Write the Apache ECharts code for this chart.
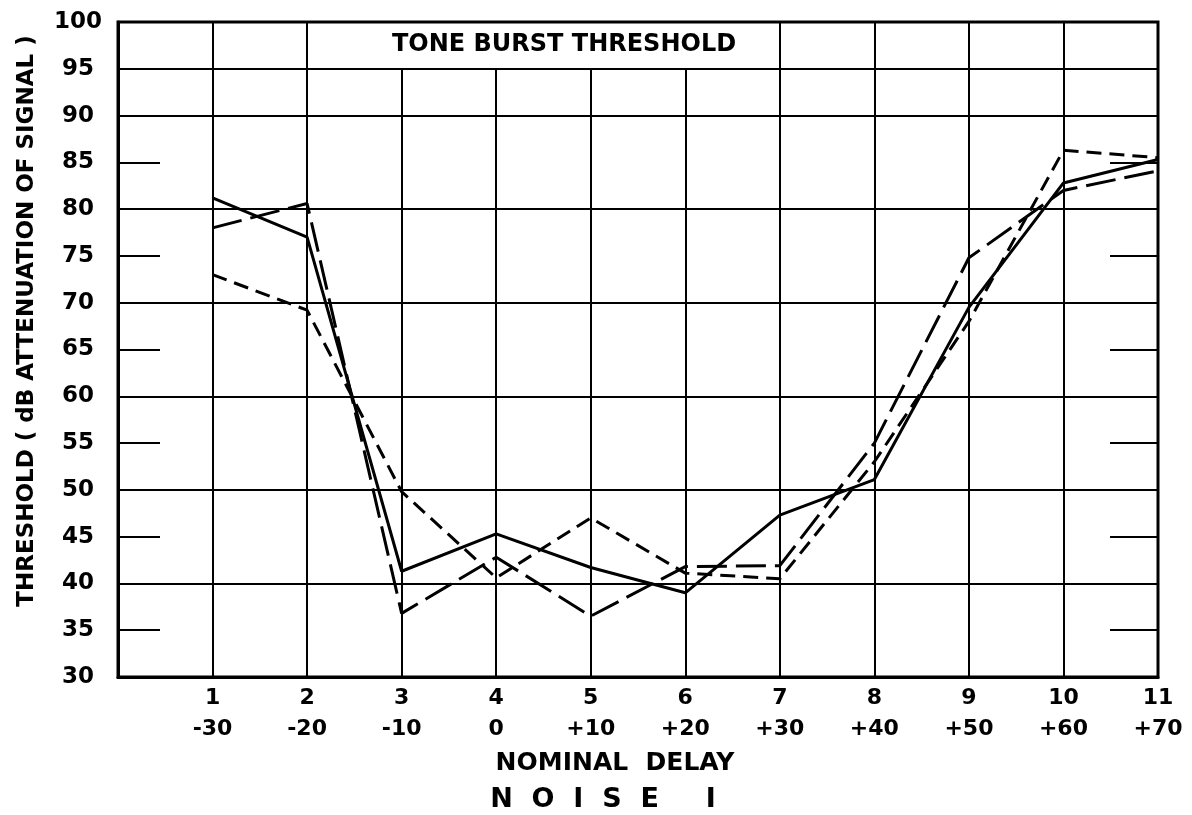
<!DOCTYPE html>
<html>
<head>
<meta charset="utf-8">
<script src="https://cdn.jsdelivr.net/npm/echarts@6/dist/echarts.min.js"></script>
<style>
html,body{margin:0;padding:0;background:#fff;}
#chart{width:1192px;height:815px;}
</style>
</head>
<body>
<div id="chart"></div>
<script>
// ---- data ----
const xValues   = [1, 2, 3, 4, 5, 6, 7, 8, 9, 10, 11];
const trialLabels = ['1','2','3','4','5','6','7','8','9','10','11'];
const delayLabels = ['-30','-20','-10','0','+10','+20','+30','+40','+50','+60','+70'];
const solidSeries     = [81.2, 77.0, 41.3, 45.3, 41.7, 39.0, 47.3, 51.1, 69.5, 82.8, 85.3];
const longDashSeries  = [78.0, 80.6, 36.8, 42.8, 36.5, 41.8, 41.9, 55.0, 74.8, 82.0, 84.1];
const shortDashSeries = [73.0, 69.2, 49.8, 40.6, 47.0, 41.1, 40.5, 53.0, 68.0, 86.3, 85.5];
const fullHLines = [40, 50, 60, 70, 80, 90, 95];
const fullVLines = [1, 2, 7, 8, 9, 10];
const boxVLines  = [3, 4, 5, 6];

const FONT = 'DejaVu Sans';
const chart = echarts.init(document.getElementById('chart'), null, {renderer:'canvas'});

function pts(arr){ return xValues.map((x,i)=>[x, arr[i]]); }

const gridLines = [];
fullHLines.forEach(v => gridLines.push([{coord:[0, v]}, {coord:[11, v]}]));
fullVLines.forEach(v => gridLines.push([{coord:[v, 30]}, {coord:[v, 100]}]));
boxVLines.forEach(v => gridLines.push([{coord:[v, 30]}, {coord:[v, 95]}]));

const option = {
  animation: false,
  backgroundColor: '#fff',
  grid: {left:118, right:34, top:22, bottom:138, show:true, borderColor:'#000', borderWidth:3, backgroundColor:'transparent'},
  xAxis: {
    type:'value', min:0, max:11, interval:1,
    axisLine:{show:true, lineStyle:{color:'#000', width:3}},
    axisTick:{show:false},
    splitLine:{show:false},
    axisLabel:{
      color:'#000', fontFamily:FONT, fontWeight:'bold', fontSize:22, lineHeight:31, margin:6,
      formatter: function(v){ const i = xValues.indexOf(v); return i < 0 ? '' : trialLabels[i] + '\n' + delayLabels[i]; }
    }
  },
  yAxis: [{
    type:'value', min:30, max:100, interval:5,
    axisLine:{show:true, lineStyle:{color:'#000', width:3}},
    axisTick:{show:true, inside:true, length:42, lineStyle:{color:'#000', width:2}},
    splitLine:{show:false},
    axisLabel:{color:'#000', fontFamily:FONT, fontWeight:'bold', fontSize:23, align:'center', margin:40}
  },{
    type:'value', min:30, max:100, interval:5, position:'right',
    axisLine:{show:false},
    axisTick:{show:true, inside:true, length:48, lineStyle:{color:'#000', width:2}},
    splitLine:{show:false},
    axisLabel:{show:false}
  }],
  graphic: [
    {type:'text', x:564, y:45, style:{text:'TONE BURST THRESHOLD', fill:'#000', font:'bold 24px "DejaVu Sans"', align:'center', verticalAlign:'middle'}},
    {type:'text', x:27, y:321, rotation:Math.PI/2, style:{text:'THRESHOLD ( dB ATTENUATION OF SIGNAL )', fill:'#000', font:'bold 23px "DejaVu Sans"', align:'center', verticalAlign:'middle'}},
    {type:'text', x:615, y:763, style:{text:'NOMINAL  DELAY', fill:'#000', font:'bold 25px "DejaVu Sans"', align:'center', verticalAlign:'middle'}},
    {type:'text', x:603, y:800, style:{text:'N  O  I  S  E     I', fill:'#000', font:'bold 27px "DejaVu Sans"', align:'center', verticalAlign:'middle'}}
  ],
  series: [
    {type:'line', data:[], z:1, silent:true,
     markLine:{silent:true, symbol:['none','none'], label:{show:false}, animation:false,
       lineStyle:{color:'#000', width:2, type:'solid'}, emphasis:{disabled:true}, data:gridLines}},
    {name:'solid', type:'line', data:pts(solidSeries), showSymbol:false, z:3,
     lineStyle:{color:'#000', width:3, type:'solid'}},
    {name:'long dash', type:'line', data:pts(longDashSeries), showSymbol:false, z:3,
     lineStyle:{color:'#000', width:3, type:[30,9]}},
    {name:'short dash', type:'line', data:pts(shortDashSeries), showSymbol:false, z:3,
     lineStyle:{color:'#000', width:3, type:[15,8]}}
  ]
};
chart.setOption(option);
</script>
</body>
</html>
